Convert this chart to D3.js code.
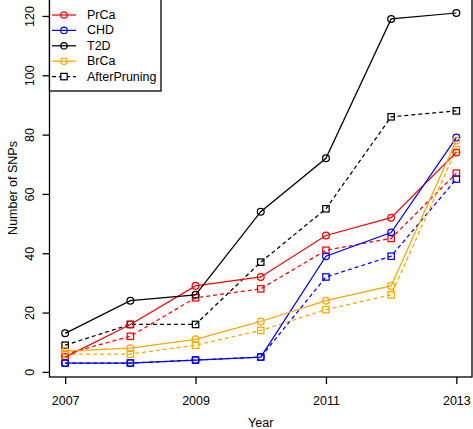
<!DOCTYPE html>
<html>
<head>
<meta charset="utf-8">
<script src="https://cdn.jsdelivr.net/npm/d3@7"></script>
<style>
  html, body { margin: 0; padding: 0; background: #fff; }
  svg { display: block; font-family: "Liberation Sans", Arial, Helvetica, sans-serif; }
</style>
</head>
<body>
<svg id="chart" width="473" height="429"></svg>
<script>
const years = [2007, 2008, 2009, 2010, 2011, 2012, 2013];
const xTickYears = [2007, 2009, 2011, 2013];
const yTicks = [0, 20, 40, 60, 80, 100, 120];

const prcaBefore = [5, 16, 29, 32, 46, 52, 74];
const prcaAfter  = [6, 12, 25, 28, 41, 45, 67];
const chdBefore  = [3, 3, 4, 5, 39, 47, 79];
const chdAfter   = [3, 3, 4, 5, 32, 39, 65];
const t2dBefore  = [13, 24, 26, 54, 72, 119, 121];
const t2dAfter   = [9, 16, 16, 37, 55, 86, 88];
const brcaBefore = [7, 8, 11, 17, 24, 29, 78];
const brcaAfter  = [6, 6, 9, 14, 21, 26, 75];

const seriesNames  = ["PrCa", "CHD", "T2D", "BrCa"];
const seriesColors = ["#ff0000", "#0000ff", "#000000", "#ffa500"];
const legendLabels = ["PrCa", "CHD", "T2D", "BrCa", "AfterPruning"];

const series = [
  { name: "PrCa", color: seriesColors[0], before: prcaBefore, after: prcaAfter },
  { name: "CHD",  color: seriesColors[1], before: chdBefore,  after: chdAfter },
  { name: "T2D",  color: seriesColors[2], before: t2dBefore,  after: t2dAfter },
  { name: "BrCa", color: seriesColors[3], before: brcaBefore, after: brcaAfter }
];

const svg = d3.select("#chart");
const pLeft = 49.5, pRight = 472, pTop = -1, pBottom = 377;

const x = d3.scaleLinear().domain([2006.76, 2013.24]).range([pLeft, pRight]);
const y = d3.scaleLinear().domain([-1.72, 125.72]).range([pBottom, pTop]);

const line = d3.line().x((d, i) => x(years[i])).y(d => y(d));
const sw = 1.25;

const g = svg.append("g");

// series: after-pruning (dashed, squares) and before (solid, circles)
series.forEach(s => {
  g.append("path").datum(s.after)
    .attr("d", line).attr("fill", "none")
    .attr("stroke", s.color).attr("stroke-width", sw)
    .attr("stroke-dasharray", "4,3");
  g.selectAll(null).data(s.after).enter().append("rect")
    .attr("x", (d, i) => x(years[i]) - 3.2)
    .attr("y", d => y(d) - 3.2)
    .attr("width", 6.4).attr("height", 6.4)
    .attr("fill", "none").attr("stroke", s.color).attr("stroke-width", sw);
});
series.forEach(s => {
  g.append("path").datum(s.before)
    .attr("d", line).attr("fill", "none")
    .attr("stroke", s.color).attr("stroke-width", sw);
  g.selectAll(null).data(s.before).enter().append("circle")
    .attr("cx", (d, i) => x(years[i]))
    .attr("cy", d => y(d))
    .attr("r", 3.4)
    .attr("fill", "none").attr("stroke", s.color).attr("stroke-width", sw);
});

// plot box
svg.append("rect")
  .attr("x", pLeft).attr("y", pTop)
  .attr("width", pRight - pLeft).attr("height", pBottom - pTop)
  .attr("fill", "none").attr("stroke", "#000").attr("stroke-width", 1.3);

// x axis
const xAxis = d3.axisBottom(x).tickValues(xTickYears).tickFormat(d3.format("d"))
  .tickSize(7).tickPadding(12);
const xg = svg.append("g").attr("transform", `translate(0,${pBottom})`).call(xAxis);
xg.select(".domain").remove();
xg.selectAll("line").attr("stroke", "#000").attr("stroke-width", 1.3);
xg.selectAll("text").attr("font-size", 12.5).attr("fill", "#000")
  .attr("font-family", "Liberation Sans, Arial, sans-serif");

// y axis
const yAxis = d3.axisLeft(y).tickValues(yTicks).tickSize(7).tickPadding(0);
const yg = svg.append("g").attr("transform", `translate(${pLeft},0)`).call(yAxis);
yg.select(".domain").remove();
yg.selectAll("line").attr("stroke", "#000").attr("stroke-width", 1.3);
yg.selectAll("text")
  .attr("font-size", 12.5).attr("fill", "#000")
  .attr("font-family", "Liberation Sans, Arial, sans-serif")
  .attr("x", 0).attr("dy", null)
  .attr("text-anchor", "middle")
  .attr("dominant-baseline", "central")
  .attr("transform", "translate(-19.5,0) rotate(-90)");

// axis titles
svg.append("text")
  .attr("x", (pLeft + pRight) / 2).attr("y", 423)
  .attr("text-anchor", "middle").attr("dominant-baseline", "central")
  .attr("font-size", 12.5).text("Year");
svg.append("text")
  .attr("transform", `translate(13,${(pTop + pBottom) / 2}) rotate(-90)`)
  .attr("text-anchor", "middle").attr("dominant-baseline", "central")
  .attr("font-size", 12.5).text("Number of SNPs");

// legend
const lg = svg.append("g");
lg.append("rect").attr("x", pLeft).attr("y", pTop).attr("width", 111.5).attr("height", 92)
  .attr("fill", "#fff").attr("stroke", "#000").attr("stroke-width", 1.3);
const legendColors = seriesColors.concat(["#000000"]);
legendLabels.forEach((lab, i) => {
  const cy = 15 + i * 15.4;
  const col = legendColors[i];
  const last = i === legendLabels.length - 1;
  lg.append("line").attr("x1", 52).attr("x2", 76).attr("y1", cy).attr("y2", cy)
    .attr("stroke", col).attr("stroke-width", sw)
    .attr("stroke-dasharray", last ? "4,3" : null);
  if (last) {
    lg.append("rect").attr("x", 64 - 3.2).attr("y", cy - 3.2).attr("width", 6.4).attr("height", 6.4)
      .attr("fill", "#fff").attr("stroke", col).attr("stroke-width", sw);
  } else {
    lg.append("circle").attr("cx", 64).attr("cy", cy).attr("r", 3.2)
      .attr("fill", "none").attr("stroke", col).attr("stroke-width", sw);
  }
  lg.append("text").attr("x", 87).attr("y", cy).attr("dominant-baseline", "central")
    .attr("font-size", 12.5).text(lab);
});
</script>
</body>
</html>
